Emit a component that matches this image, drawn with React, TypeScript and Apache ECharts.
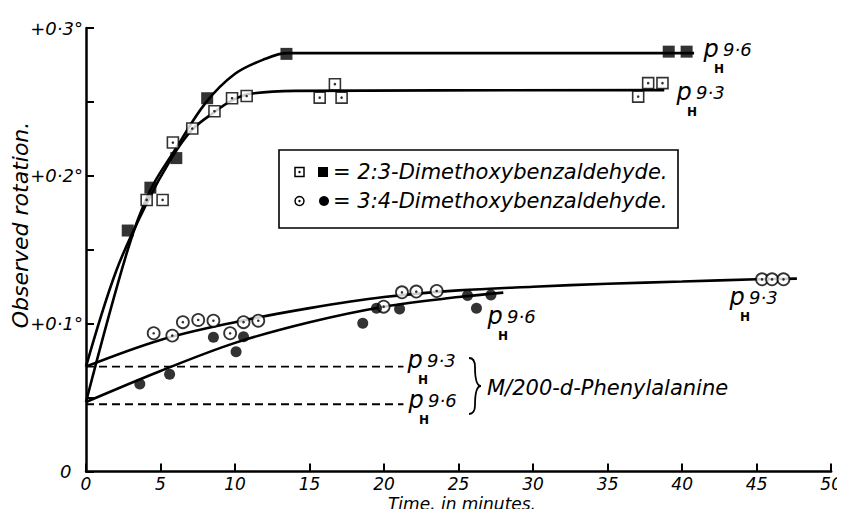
import React, { useEffect, useRef } from 'react';
import * as echarts from 'echarts';

// ---- data (time in minutes, observed rotation in degrees) ----
const xMin = 0;
const xMax = 50;
const yMin = 0;
const yMax = 0.3;

// 2:3-Dimethoxybenzaldehyde, pH 9.6 (filled squares)
const sqFilled: number[][] = [
  [2.8, 0.163], [4.32, 0.192], [6.06, 0.212], [8.13, 0.2525], [13.45, 0.2825], [39.1, 0.284], [40.3, 0.284],
];
// 2:3-Dimethoxybenzaldehyde, pH 9.3 (open squares)
const sqOpen: number[][] = [
  [4.07, 0.1837], [5.14, 0.1837], [5.83, 0.2225], [7.13, 0.232], [8.62, 0.2437], [9.8, 0.2525],
  [10.78, 0.254], [15.68, 0.2529], [16.7, 0.262], [17.15, 0.2529], [37.05, 0.2536], [37.72, 0.2627], [38.68, 0.2627],
];
// 3:4-Dimethoxybenzaldehyde, pH 9.3 (open circles)
const ciOpen: number[][] = [
  [4.54, 0.0935], [5.79, 0.0919], [6.5, 0.101], [7.53, 0.1025], [8.55, 0.102], [9.67, 0.0935], [10.57, 0.101],
  [11.56, 0.102], [19.97, 0.1115], [21.2, 0.1212], [22.16, 0.1217], [23.53, 0.1221], [45.36, 0.13], [46.03, 0.13], [46.8, 0.13],
];
// 3:4-Dimethoxybenzaldehyde, pH 9.6 (filled circles)
const ciFilled: number[][] = [
  [3.61, 0.0592], [5.61, 0.0658], [8.55, 0.0908], [10.07, 0.081], [10.57, 0.0912], [18.57, 0.1003], [19.49, 0.1104],
  [21.04, 0.11], [25.6, 0.119], [26.2, 0.1104], [27.17, 0.1194],
];

// drawn curves
const sqFilledCurve: number[][] = [
  [0, 0.047], [2.8, 0.15], [4.3, 0.19], [6, 0.218], [8, 0.249], [10, 0.269], [12, 0.279], [13.5, 0.283], [40.8, 0.283],
];
const sqOpenCurve: number[][] = [
  [0, 0.071], [2, 0.135], [4, 0.18], [5.8, 0.213], [7.1, 0.231], [8.6, 0.243], [9.8, 0.251], [11, 0.2555], [14, 0.2575], [38.8, 0.258],
];
const ciOpenCurve: number[][] = [
  [0, 0.071], [5, 0.089], [10, 0.101], [15, 0.1105], [20, 0.118], [25, 0.1225], [30, 0.125], [35, 0.127], [40, 0.1285], [45, 0.13], [47.7, 0.1305],
];
const ciFilledCurve: number[][] = [
  [0, 0.047], [5, 0.068], [10, 0.087], [15, 0.101], [20, 0.1115], [25, 0.118], [28, 0.121],
];

// M/200-d-Phenylalanine blanks (dashed)
const blank93: number[][] = [[0, 0.071], [21.3, 0.071]];
const blank96: number[][] = [[0, 0.0455], [21.3, 0.0455]];

const yTickText: Record<number, string> = { 0: '0  ', 10: '+0·1°', 20: '+0·2°', 30: '+0·3°' };

const legendRows = ['= 2:3-Dimethoxybenzaldehyde.', '= 3:4-Dimethoxybenzaldehyde.'];
const blankLabel = 'M/200-d-Phenylalanine';
const xName = 'Time, in minutes.';
const yName = 'Observed rotation.';

const FONT = '"DejaVu Sans", sans-serif';

function phLabel(cx: number, cy: number, num: string): any {
  return {
    type: 'group',
    children: [
      {
        type: 'text', x: cx, y: cy - 6,
        style: { text: 'p', font: `italic 24px ${FONT}`, fill: '#000', align: 'center', verticalAlign: 'middle' },
      },
      {
        type: 'text', x: cx + 8, y: cy + 14,
        style: { text: 'H', font: `bold 12px ${FONT}`, fill: '#000', align: 'center', verticalAlign: 'middle' },
      },
      {
        type: 'text', x: cx + 12, y: cy - 6,
        style: { text: num, font: `italic 18px ${FONT}`, fill: '#000', align: 'left', verticalAlign: 'middle' },
      },
    ],
  };
}

const braceStyle = { stroke: '#000', lineWidth: 1.8, fill: 'none' };

export default function App() {
  const ref = useRef<HTMLDivElement>(null);
  useEffect(() => {
    if (!ref.current) return;
    const chart = echarts.init(ref.current, undefined, { renderer: 'svg' });
    const curveStyle = { color: '#000', width: 2.6 };
    const line = (data: number[][], smooth: number | boolean = 0.35) => ({
      type: 'line', data, smooth, symbol: 'none', lineStyle: curveStyle, z: 2, silent: true,
    });
    const dashed = (data: number[][]) => ({
      type: 'line', data, symbol: 'none', lineStyle: { color: '#000', width: 1.8, type: [8, 5] }, z: 2, silent: true,
    });
    const dots = (data: number[][]) => ({
      type: 'scatter', data, symbol: 'circle', symbolSize: 2.6, itemStyle: { color: '#000' }, z: 6, silent: true,
    });
    chart.setOption({
      animation: false,
      backgroundColor: '#fff',
      grid: { left: 86, right: 10, top: 28, bottom: 45.5, containLabel: false },
      xAxis: {
        type: 'value', min: xMin, max: xMax, interval: 5,
        axisLine: { show: true, onZero: false, lineStyle: { color: '#000', width: 2.5 } },
        axisTick: { show: true, inside: true, length: 8, lineStyle: { color: '#000', width: 2 } },
        axisLabel: { color: '#000', fontSize: 17, fontStyle: 'italic', fontFamily: FONT, margin: 4 },
        splitLine: { show: false },
      },
      yAxis: {
        type: 'value', min: yMin, max: yMax, interval: 0.05,
        axisLine: { show: true, onZero: false, lineStyle: { color: '#000', width: 2.5 } },
        axisTick: { show: true, inside: true, length: 8, lineStyle: { color: '#000', width: 2 } },
        axisLabel: {
          color: '#000', fontSize: 18, fontStyle: 'italic', fontFamily: FONT, margin: 3,
          formatter: (v: number) => yTickText[Math.round(v * 100)] ?? '',
        },
        splitLine: { show: false },
      },
      series: [
        line(sqFilledCurve),
        line(sqOpenCurve),
        line(ciOpenCurve),
        line(ciFilledCurve),
        dashed(blank93),
        dashed(blank96),
        { type: 'scatter', data: sqFilled, symbol: 'rect', symbolSize: 12, itemStyle: { color: '#000' }, z: 5, silent: true },
        { type: 'scatter', data: sqOpen, symbol: 'rect', symbolSize: 11, itemStyle: { color: '#fff', borderColor: '#000', borderWidth: 1.6 }, z: 5, silent: true },
        dots(sqOpen),
        { type: 'scatter', data: ciOpen, symbol: 'circle', symbolSize: 12, itemStyle: { color: '#fff', borderColor: '#000', borderWidth: 1.8 }, z: 5, silent: true },
        dots(ciOpen),
        { type: 'scatter', data: ciFilled, symbol: 'circle', symbolSize: 11, itemStyle: { color: '#000' }, z: 5, silent: true },
      ],
      graphic: [
        {
          type: 'text', x: 20, y: 225, rotation: Math.PI / 2,
          style: { text: yName, font: `italic 22px ${FONT}`, fill: '#000', align: 'center', verticalAlign: 'middle' },
        },
        {
          type: 'text', x: 462, y: 512,
          style: { text: xName, font: `italic 17px ${FONT}`, fill: '#000', align: 'center', verticalAlign: 'bottom' },
        },
        // legend box
        { type: 'rect', shape: { x: 279, y: 150, width: 399, height: 78 }, style: { fill: '#fff', stroke: '#000', lineWidth: 1.6 }, z: 10 },
        { type: 'rect', shape: { x: 295, y: 167.5, width: 9, height: 9 }, style: { fill: '#fff', stroke: '#000', lineWidth: 1.5 }, z: 11 },
        { type: 'circle', shape: { cx: 299.5, cy: 172, r: 1.2 }, style: { fill: '#000' }, z: 11 },
        { type: 'rect', shape: { x: 318, y: 167, width: 10, height: 10 }, style: { fill: '#000' }, z: 11 },
        { type: 'circle', shape: { cx: 299.5, cy: 201, r: 4.5 }, style: { fill: '#fff', stroke: '#000', lineWidth: 1.5 }, z: 11 },
        { type: 'circle', shape: { cx: 299.5, cy: 201, r: 1.2 }, style: { fill: '#000' }, z: 11 },
        { type: 'circle', shape: { cx: 324, cy: 201, r: 5 }, style: { fill: '#000' }, z: 11 },
        { type: 'text', x: 333, y: 172, z: 11, style: { text: legendRows[0], font: `italic 21px ${FONT}`, fill: '#000', verticalAlign: 'middle' } },
        { type: 'text', x: 333, y: 201, z: 11, style: { text: legendRows[1], font: `italic 21px ${FONT}`, fill: '#000', verticalAlign: 'middle' } },
        // pH labels
        phLabel(711, 55, '9·6'),
        phLabel(684, 98, '9·3'),
        phLabel(495, 322, '9·6'),
        phLabel(737, 303, '9·3'),
        phLabel(415, 366, '9·3'),
        phLabel(416, 406, '9·6'),
        // brace
        { type: 'bezierCurve', shape: { x1: 469, y1: 358, cpx1: 474, cpy1: 358, cpx2: 475, cpy2: 362, x2: 475, y2: 367 }, style: braceStyle },
        { type: 'bezierCurve', shape: { x1: 475, y1: 367, cpx1: 475, cpy1: 381, cpx2: 477, cpy2: 386, x2: 481, y2: 386 }, style: braceStyle },
        { type: 'bezierCurve', shape: { x1: 481, y1: 386, cpx1: 477, cpy1: 386, cpx2: 475, cpy2: 391, x2: 475, y2: 405 }, style: braceStyle },
        { type: 'bezierCurve', shape: { x1: 475, y1: 405, cpx1: 475, cpy1: 410, cpx2: 474, cpy2: 414, x2: 469, y2: 414 }, style: braceStyle },
        {
          type: 'text', x: 487, y: 388,
          style: { text: blankLabel, font: `italic 21px ${FONT}`, fill: '#000', verticalAlign: 'middle' },
        },
      ],
    });
    return () => chart.dispose();
  }, []);
  return <div ref={ref} style={{ width: 845, height: 517, margin: -8 }} />;
}
